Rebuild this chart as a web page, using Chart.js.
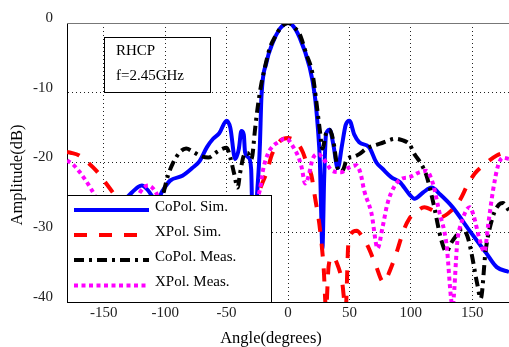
<!DOCTYPE html>
<html>
<head>
<meta charset="utf-8">
<script src="https://cdn.jsdelivr.net/npm/chart.js@4/dist/chart.umd.min.js"></script>
<style>
  html, body { margin:0; padding:0; background:#fff; }
  #wrap { width:509px; height:347px; }
</style>
</head>
<body>
<div id="wrap"><canvas id="c" width="509" height="347"></canvas></div>
<script>
'use strict';

// ---- data (angle in degrees, amplitude in dB) ----
const coSimAng = [-180,-165,-150,-140,-130,-122,-119,-114,-107,-102,-96,-86,-78,-72,-66,-61,-56,-50,-47,-43,-40,-38,-36,-35,-32,-30,-29,-27.5,-25,-23,-21.6,-17.6,-12.4,-6.8,-3,0,3,9.5,17.7,21.7,24.3,26,27,28,29.5,31,34,37,40.5,44,47,50,54,58,66,72,77,84,91,99,103,110,117,124,134,148,161.5,170,180];
const coSimDb  = [-34,-31,-28,-26.5,-24.8,-23.5,-23.3,-24,-25.5,-24,-22.6,-21.9,-20.8,-19.8,-17.8,-16.6,-15.8,-14,-15,-19.5,-18,-15.5,-16,-18.5,-19.3,-21,-28,-30,-24,-18,-10.5,-5.7,-2.8,-0.86,-0.2,0,-0.2,-2.1,-6.4,-10.2,-15,-20,-27,-32.4,-22,-15.9,-15.3,-17.5,-20.8,-17.5,-14.6,-14,-16,-17.1,-17.8,-20,-20.9,-22.1,-22.8,-24.6,-25.2,-24.3,-23.6,-24.6,-26.4,-29.8,-33,-35,-35.7];

const xSimAng = [-180,-177,-170,-163,-156,-149,-142,-130,-110,-90,-70,-50,-35,-25,-21,-17,-13,-7,0,7,12,16,19,22,26,29,31,33,36,40,44,47,49,51,56,60,65,71,78,83,89,94,99,105,111,118,125,133,140,146,152,162,170,180];
const xSimDb  = [-18.5,-18.6,-19,-20,-21.2,-22.8,-24.5,-28,-32,-30,-32,-30,-28,-24.7,-23,-21.2,-18.8,-17,-16.5,-17.1,-18.5,-20.5,-21.8,-25,-29.5,-35,-41,-35,-33.5,-34.5,-37,-41,-32,-30.3,-29.8,-30.5,-32,-34.5,-37.2,-35.5,-32.6,-29.8,-28,-27,-26.4,-26.9,-27.8,-26.9,-25.4,-23.3,-21.6,-20,-19,-18.4];

const coMeasAng = [-180,-150,-120,-105,-102,-98,-94,-88,-83,-77,-72,-65,-58,-53,-50,-47,-44,-41,-39,-36,-33,-30,-29,-27,-25,-22,-19,-15,-10,-6,-3,0,3,5,9.5,15,20,24,26,28,31,34,37,40,42,45,48,53,58,64,75,88,93,99,103,107,110,113,118,125,129,133,137,142,146,149,154,157,161,166.6,172,175,180];
const coMeasDb  = [-32,-30,-28,-26,-24.7,-22,-20.2,-18.5,-18,-18.5,-19,-19.3,-18.5,-18,-17.9,-19.3,-21.5,-23.6,-21.5,-19,-18.6,-19.5,-19,-15.5,-12.5,-9,-6.5,-3.7,-1.8,-0.7,-0.2,0,-0.2,-0.6,-1.6,-4.5,-7.3,-12.6,-15.5,-18,-15.8,-15.3,-17,-20.5,-21.3,-21,-19.5,-19.2,-18.8,-18,-17.3,-16.6,-16.8,-17.4,-18.8,-19.8,-20.7,-22,-25.5,-31.2,-32.8,-31.5,-30.5,-29.5,-30.5,-32.6,-37.3,-39.5,-32.6,-27.9,-26,-25.8,-26.9];

const xMeasAng = [-180,-175,-169.5,-161,-155,-140,-128,-121,-114,-107,-100,-80,-60,-40,-30,-23,-20.5,-16.5,-12,-8,-2.7,0,4,8,11,14,17,20,25,28,31,36,43,50,55.6,59,62,68,73,77,81,87,93,99,107,112.6,118,123,129,134,138,141,148,151,156,160,163,167,171,175,180];
const xMeasDb  = [-19.7,-20.3,-21.4,-23.6,-25.5,-30,-27,-24.4,-23.3,-24.5,-28,-30,-30,-28,-26,-24,-21.2,-18.8,-17.6,-17.1,-16.6,-16.7,-17.7,-19,-20.6,-23,-21.8,-19.5,-18.8,-19.3,-20,-21.2,-21.4,-20.7,-20.4,-21.5,-24,-27.3,-32.3,-29.3,-25.9,-23.3,-22.3,-22.1,-21.4,-21.2,-23,-26.9,-31.6,-40.5,-31.2,-28.8,-26.4,-27.5,-31,-32.8,-29,-24,-20.5,-19.3,-19.5];

const seriesNames = ['CoPol. Sim.', 'XPol. Sim.', 'CoPol. Meas.', 'XPol. Meas.'];
const xTicks = [-150, -100, -50, 0, 50, 100, 150];
const infoLines = ['RHCP', 'f=2.45GHz'];

const FONT = "'Liberation Serif','Times New Roman',serif";
const pts = (a, d) => a.map((x, i) => ({ x, y: d[i] }));

const styles = [
  { color:'#0000ff', dash:[] },
  { color:'#ff0000', dash:[13,12] },
  { color:'#000000', dash:[10,5,3,5] },
  { color:'#ff00ff', dash:[4,3.5] }
];
const sets = [pts(coSimAng, coSimDb), pts(xSimAng, xSimDb), pts(coMeasAng, coMeasDb), pts(xMeasAng, xMeasDb)];

// ---- extras: frame top, info box, legend, axis titles ----
const extras = {
  id: 'extras',
  beforeDraw(chart) {
    const { ctx } = chart;
    ctx.save(); ctx.fillStyle = '#fff'; ctx.fillRect(0, 0, chart.width, chart.height); ctx.restore();
  },
  afterDraw(chart) {
    const { ctx, chartArea: a } = chart;
    ctx.save();
    // top frame line
    ctx.strokeStyle = '#777'; ctx.lineWidth = 1;
    ctx.beginPath(); ctx.moveTo(a.left, a.top + 0.5); ctx.lineTo(a.right, a.top + 0.5); ctx.stroke();

    // info box
    ctx.strokeStyle = '#000';
    ctx.strokeRect(104.5, 37.5, 106, 55);
    ctx.fillStyle = '#000'; ctx.font = '15px ' + FONT; ctx.textBaseline = 'alphabetic'; ctx.textAlign = 'left';
    ctx.fillText(infoLines[0], 116, 55);
    ctx.fillText(infoLines[1], 116, 80);

    // legend
    const lx = a.left + 0.5, ly = 195.5, lw = 204, lh = a.bottom - 195;
    ctx.fillStyle = '#fff'; ctx.fillRect(lx, ly, lw, lh);
    ctx.strokeStyle = '#000'; ctx.lineWidth = 1; ctx.strokeRect(lx, ly, lw, lh);
    const rowsLine = [210, 235, 260, 285.5];
    const rowsText = [211, 236, 261, 285.5];
    seriesNames.forEach((name, i) => {
      ctx.save();
      ctx.strokeStyle = styles[i].color; ctx.lineWidth = 4; ctx.setLineDash(styles[i].dash);
      ctx.beginPath(); ctx.moveTo(74, rowsLine[i]); ctx.lineTo(149, rowsLine[i]); ctx.stroke();
      ctx.restore();
      ctx.fillStyle = '#000'; ctx.font = '15px ' + FONT;
      ctx.fillText(name, 155, rowsText[i]);
    });

    // axis titles
    ctx.font = '16.5px ' + FONT; ctx.textAlign = 'center'; ctx.textBaseline = 'middle';
    ctx.fillText('Angle(degrees)', 271, 339);
    ctx.translate(18, 175); ctx.rotate(-Math.PI / 2);
    ctx.fillText('Amplitude(dB)', 0, 0);
    ctx.restore();
  }
};

new Chart(document.getElementById('c').getContext('2d'), {
  type: 'line',
  data: {
    datasets: sets.map((d, i) => ({
      label: seriesNames[i], data: d,
      borderColor: styles[i].color, borderDash: styles[i].dash, borderWidth: 4,
      borderCapStyle: 'butt', pointRadius: 0, fill: false,
      cubicInterpolationMode: 'monotone', clip: 0, order: 4 - i
    }))
  },
  options: {
    responsive: false, animation: false, events: [],
    layout: { padding: { top: 22, left: 0, right: 0, bottom: 0 } },
    plugins: { legend: { display: false }, tooltip: { enabled: false } },
    scales: {
      x: {
        type: 'linear', min: -180, max: 180,
        afterBuildTicks: s => { s.ticks = xTicks.map(v => ({ value: v })); },
        afterFit: s => { s.height = 45; },
        ticks: { color: '#222', font: { family: FONT, size: 15 }, padding: 2, maxRotation: 0 },
        grid: { color: '#222', lineWidth: 1, drawTicks: false },
        border: { color: '#000', width: 1, dash: [1, 3] }
      },
      y: {
        min: -40, max: 0,
        ticks: { stepSize: 10, color: '#222', font: { family: FONT, size: 15 }, padding: 14, labelOffset: -5 },
        afterFit: s => { s.width = 67; },
        grid: { color: '#222', lineWidth: 1, drawTicks: false },
        border: { color: '#000', width: 1, dash: [1, 3] }
      }
    }
  },
  plugins: [extras]
});
</script>
</body>
</html>
